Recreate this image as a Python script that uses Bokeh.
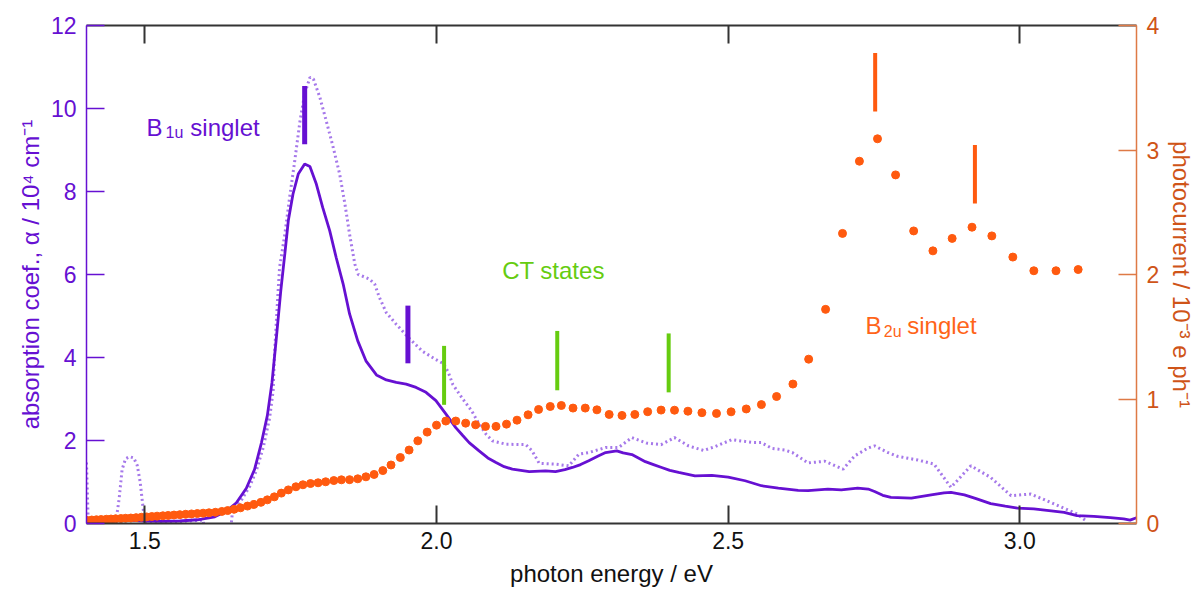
from bokeh.plotting import figure
from bokeh.models import Range1d, LinearAxis, FixedTicker, Label, NumeralTickFormatter
from bokeh.embed import file_html
from bokeh.resources import INLINE

# ---------------- data ----------------
# absorption coefficient (solid line), 10^4 cm^-1
abs_E = [1.400, 1.430, 1.470, 1.500, 1.530, 1.560, 1.590, 1.620, 1.640, 1.657, 1.674, 1.688,
         1.700, 1.710, 1.718, 1.725, 1.733, 1.740, 1.746, 1.754, 1.763, 1.774, 1.783, 1.794,
         1.805, 1.817, 1.828, 1.840, 1.851, 1.865, 1.879, 1.897, 1.914, 1.931, 1.948, 1.965,
         1.982, 1.999, 2.016, 2.033, 2.045, 2.056, 2.073, 2.088, 2.102, 2.116, 2.130, 2.159,
         2.187, 2.204, 2.220, 2.233, 2.247, 2.261, 2.278, 2.290, 2.309, 2.320, 2.335, 2.358,
         2.372, 2.386, 2.400, 2.415, 2.443, 2.472, 2.500, 2.529, 2.557, 2.586, 2.620, 2.637,
         2.671, 2.694, 2.722, 2.740, 2.751, 2.765, 2.779, 2.814, 2.848, 2.870, 2.882, 2.905,
         2.925, 2.950, 2.975, 2.996, 3.024, 3.050, 3.076, 3.098, 3.127, 3.155, 3.178, 3.189,
         3.200]
abs_y = [0.12, 0.10, 0.08, 0.06, 0.05, 0.06, 0.09, 0.16, 0.30, 0.50, 0.85, 1.30,
         1.95, 2.60, 3.40, 4.40, 5.60, 6.50, 7.30, 7.94, 8.42, 8.66, 8.60, 8.18,
         7.61, 7.05, 6.41, 5.77, 5.05, 4.40, 3.92, 3.58, 3.46, 3.40, 3.36, 3.28,
         3.16, 2.96, 2.64, 2.31, 2.12, 1.95, 1.75, 1.58, 1.47, 1.37, 1.31, 1.25,
         1.27, 1.25, 1.30, 1.35, 1.42, 1.51, 1.63, 1.71, 1.75, 1.70, 1.66, 1.49,
         1.42, 1.35, 1.28, 1.23, 1.15, 1.16, 1.12, 1.03, 0.91, 0.85, 0.80, 0.79,
         0.83, 0.81, 0.85, 0.83, 0.77, 0.68, 0.63, 0.61, 0.69, 0.74, 0.75, 0.69,
         0.60, 0.48, 0.42, 0.37, 0.35, 0.31, 0.27, 0.19, 0.17, 0.14, 0.11, 0.08,
         0.14]

# second absorption spectrum (dotted line)
dot_E = [1.400, 1.403, 1.450, 1.456, 1.461, 1.467, 1.474, 1.481, 1.487, 1.492, 1.496, 1.500,
         1.550, 1.600, 1.606, 1.644, 1.650, 1.665, 1.680, 1.691, 1.703, 1.714, 1.720, 1.722,
         1.728, 1.731, 1.740, 1.749, 1.757, 1.766, 1.774, 1.783, 1.789, 1.800, 1.811, 1.823,
         1.834, 1.843, 1.851, 1.860, 1.866, 1.885, 1.894, 1.902, 1.914, 1.931, 1.954, 1.976,
         1.999, 2.012, 2.020, 2.028, 2.045, 2.060, 2.073, 2.085, 2.096, 2.119, 2.153, 2.164,
         2.176, 2.204, 2.227, 2.244, 2.261, 2.290, 2.312, 2.335, 2.360, 2.385, 2.408, 2.432,
         2.458, 2.477, 2.506, 2.543, 2.557, 2.575, 2.597, 2.610, 2.637, 2.666, 2.697, 2.717,
         2.740, 2.751, 2.774, 2.790, 2.825, 2.853, 2.882, 2.916, 2.950, 2.985, 3.019, 3.059,
         3.098, 3.115]
dot_y = [1.47, 0.00, 0.00, 0.60, 1.30, 1.56, 1.61, 1.58, 1.40, 1.00, 0.50, 0.00,
         0.04, 0.08, -0.60, -0.60, 0.25, 0.55, 0.90, 1.27, 1.83, 2.55, 3.20, 4.00,
         5.50, 6.17, 6.97, 7.94, 8.74, 9.70, 10.35, 10.75, 10.71, 10.27, 9.70, 9.06,
         8.42, 7.70, 6.97, 6.25, 6.00, 5.89, 5.77, 5.45, 5.08, 4.80, 4.45, 4.15,
         3.95, 3.85, 3.65, 3.35, 3.00, 2.72, 2.40, 2.15, 1.99, 1.91, 1.90, 1.75,
         1.45, 1.43, 1.39, 1.67, 1.71, 1.83, 1.83, 2.07, 1.94, 1.90, 2.07, 1.87,
         1.76, 1.85, 2.02, 1.95, 1.95, 1.81, 1.77, 1.71, 1.46, 1.50, 1.31, 1.63,
         1.82, 1.87, 1.71, 1.62, 1.53, 1.43, 0.87, 1.39, 1.11, 0.67, 0.71, 0.47,
         0.23, 0.05]

# photocurrent (dots), 10^-3 e ph^-1
pc_E = [1.401, 1.409, 1.417, 1.425, 1.434, 1.442, 1.450, 1.459, 1.467, 1.476, 1.485, 1.494,
        1.503, 1.512, 1.521, 1.531, 1.540, 1.550, 1.560, 1.570, 1.580, 1.590, 1.600, 1.610,
        1.621, 1.632, 1.642, 1.653, 1.664, 1.676, 1.687, 1.699, 1.710, 1.722, 1.734, 1.746,
        1.759, 1.771, 1.784, 1.797, 1.810, 1.824, 1.837, 1.851, 1.865, 1.879, 1.893, 1.908,
        1.922, 1.938, 1.953, 1.968, 1.984, 2.000, 2.016, 2.033, 2.050, 2.067, 2.084, 2.102,
        2.120, 2.138, 2.157, 2.175, 2.195, 2.214, 2.234, 2.255, 2.275, 2.296, 2.318, 2.340,
        2.362, 2.385, 2.408, 2.431, 2.455, 2.480, 2.505, 2.531, 2.557, 2.583, 2.611, 2.638,
        2.667, 2.696, 2.725, 2.756, 2.787, 2.818, 2.851, 2.884, 2.918, 2.952, 2.988, 3.024,
        3.062, 3.100]
pc_y = [0.025, 0.028, 0.030, 0.032, 0.034, 0.036, 0.038, 0.040, 0.042, 0.044, 0.047, 0.050,
        0.053, 0.056, 0.059, 0.062, 0.065, 0.068, 0.071, 0.074, 0.077, 0.080, 0.083, 0.086,
        0.090, 0.097, 0.104, 0.114, 0.126, 0.140, 0.153, 0.170, 0.190, 0.214, 0.244, 0.270,
        0.295, 0.311, 0.321, 0.327, 0.335, 0.345, 0.351, 0.352, 0.359, 0.375, 0.394, 0.425,
        0.470, 0.530, 0.590, 0.664, 0.734, 0.790, 0.823, 0.823, 0.806, 0.793, 0.780, 0.780,
        0.798, 0.830, 0.873, 0.916, 0.940, 0.948, 0.927, 0.927, 0.913, 0.876, 0.868, 0.876,
        0.898, 0.911, 0.910, 0.902, 0.890, 0.884, 0.897, 0.920, 0.955, 1.020, 1.120, 1.320,
        1.720, 2.330, 2.910, 3.090, 2.800, 2.350, 2.190, 2.290, 2.380, 2.310, 2.140, 2.030,
        2.030, 2.040]

# state markers (vertical bars)
b1u_E = [1.774, 1.951]
b1u_lo = [9.14, 3.86]
b1u_hi = [10.54, 5.25]
ct_E = [2.013, 2.207, 2.398]
ct_lo = [2.86, 3.21, 3.16]
ct_hi = [4.28, 4.64, 4.58]
b2u_E = [2.752, 2.923]          # on photocurrent axis
b2u_lo = [3.31, 2.57]
b2u_hi = [3.78, 3.04]

x_ticks = [1.5, 2.0, 2.5, 3.0]
left_ticks = [0, 2, 4, 6, 8, 10, 12]
right_ticks = [0, 1, 2, 3, 4]

# ---------------- style ----------------
FONT = "Liberation Sans"
PURPLE = "#6610d2"
LPURPLE = "#a679ea"
ORANGE = "#ff5a0f"
ORANGE_TXT = "#cf5418"
ORANGE_AX = "#de7a46"
GREEN = "#66cc10"
BLACK = "#333333"

p = figure(width=1198, height=589, output_backend="svg", toolbar_location=None,
           x_range=Range1d(1.4, 3.2), y_range=Range1d(0, 12),
           min_border_left=86, min_border_right=59, min_border_top=25, min_border_bottom=66)
p.extra_y_ranges = {"pc": Range1d(0, 4)}
p.grid.visible = False
p.outline_line_color = None
p.background_fill_color = "white"
p.border_fill_color = "white"

# bottom axis
xa = p.xaxis[0]
xa.ticker = FixedTicker(ticks=x_ticks)
xa.formatter = NumeralTickFormatter(format="0.0")
xa.axis_line_color = BLACK
xa.axis_line_width = 2
xa.major_tick_line_color = BLACK
xa.major_tick_line_width = 2
xa.major_tick_in = 18
xa.major_tick_out = 0
xa.minor_tick_line_color = None
xa.major_label_text_font = FONT
xa.major_label_text_font_size = "23px"
xa.major_label_text_color = "#111111"
xa.major_label_standoff = 8
xa.axis_label = "photon energy / eV"
xa.axis_label_text_font = FONT
xa.axis_label_text_font_style = "normal"
xa.axis_label_text_font_size = "24px"
xa.axis_label_text_color = "#111111"
xa.axis_label_standoff = 8

# top axis (ticks only)
top = LinearAxis(ticker=FixedTicker(ticks=x_ticks))
top.axis_line_color = BLACK
top.axis_line_width = 2
top.major_tick_line_color = BLACK
top.major_tick_line_width = 2
top.major_tick_in = 18
top.major_tick_out = 0
top.minor_tick_line_color = None
top.major_label_text_color = None
top.major_label_standoff = 0
p.add_layout(top, "above")

# left axis
ya = p.yaxis[0]
ya.ticker = FixedTicker(ticks=left_ticks)
ya.axis_line_color = PURPLE
ya.axis_line_width = 1.5
ya.major_tick_line_color = PURPLE
ya.major_tick_line_width = 1.5
ya.major_tick_in = 18
ya.major_tick_out = 0
ya.minor_tick_line_color = None
ya.major_label_text_font = FONT
ya.major_label_text_font_size = "23px"
ya.major_label_text_color = PURPLE
ya.major_label_standoff = 10
ya.axis_label = "absorption coef., α / 10⁴ cm⁻¹"
ya.axis_label_text_font = FONT
ya.axis_label_text_font_style = "normal"
ya.axis_label_text_font_size = "24px"
ya.axis_label_text_color = PURPLE
ya.axis_label_standoff = 4

# right axis
ra = LinearAxis(y_range_name="pc", ticker=FixedTicker(ticks=right_ticks))
ra.axis_line_color = ORANGE_AX
ra.axis_line_width = 1.5
ra.major_tick_line_color = ORANGE_AX
ra.major_tick_line_width = 1.5
ra.major_tick_in = 18
ra.major_tick_out = 0
ra.minor_tick_line_color = None
ra.major_label_text_font = FONT
ra.major_label_text_font_size = "23px"
ra.major_label_text_color = ORANGE_TXT
ra.major_label_standoff = 10
ra.axis_label = "photocurrent / 10⁻³ e ph⁻¹"
ra.axis_label_text_font = FONT
ra.axis_label_text_font_style = "normal"
ra.axis_label_text_font_size = "24px"
ra.axis_label_text_color = ORANGE_TXT
ra.axis_label_standoff = 6
p.add_layout(ra, "right")

# ---------------- glyphs ----------------
p.line(dot_E, dot_y, line_color=LPURPLE, line_width=3, line_dash="2 3", line_cap="butt")
p.line(abs_E, abs_y, line_color=PURPLE, line_width=2.8)
p.scatter(pc_E, pc_y, y_range_name="pc", size=8, fill_color=ORANGE, line_color=ORANGE)

p.segment(b1u_E, b1u_lo, b1u_E, b1u_hi, line_color=PURPLE, line_width=5, line_cap="butt")
p.segment(ct_E, ct_lo, ct_E, ct_hi, line_color=GREEN, line_width=4, line_cap="butt")
p.segment(b2u_E, b2u_lo, b2u_E, b2u_hi, y_range_name="pc", line_color=ORANGE,
          line_width=4, line_cap="butt")

# ---------------- texts ----------------
def lab(x, y, text, color, size="24px"):
    p.add_layout(Label(x=x, y=y, text=text, text_color=color, text_font=FONT,
                       text_font_size=size, text_align="left",
                       text_baseline="alphabetic"))

lab(1.503, 9.54, "B", PURPLE)
lab(1.5355, 9.41, "1u", PURPLE, size="16px")
lab(1.578, 9.54, "singlet", PURPLE)

lab(2.7353, 4.77, "B", "#ff6418")
lab(2.7668, 4.635, "2u", "#ff6418", size="16px")
lab(2.807, 4.77, "singlet", "#ff6418")

lab(2.1125, 6.10, "CT states", GREEN)

open("out.html", "w").write(file_html(p, INLINE))
